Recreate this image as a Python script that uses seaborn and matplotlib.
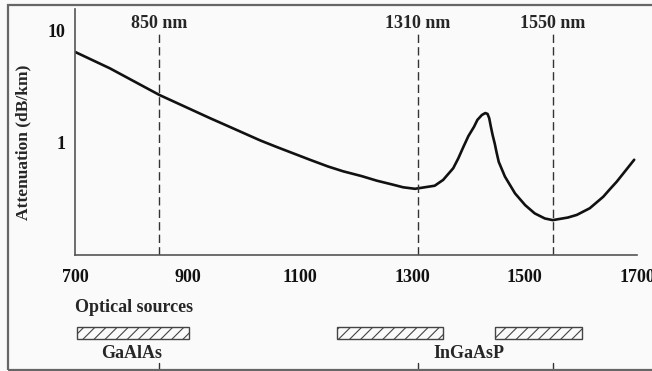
import matplotlib
matplotlib.use("Agg")
import matplotlib.pyplot as plt
import matplotlib.patches as mpatches
import seaborn as sns

# ------------------------
# Data
# ------------------------
wavelength = [700, 762, 850, 940, 960, 1030, 1059, 1088, 1118, 1150, 1177, 1210,
              1237, 1265, 1284, 1305, 1340, 1355, 1373, 1382, 1391, 1400, 1410, 1416,
              1424, 1430, 1434, 1437, 1440, 1443, 1447, 1450, 1454, 1465, 1483, 1501, 1518,
              1536, 1550, 1577, 1593, 1616, 1640, 1651, 1664, 1695]
attenuation = [6.45, 4.6, 2.66, 1.65, 1.49, 1.04, 0.91, 0.80, 0.70, 0.61, 0.552, 0.50,
               0.455, 0.42, 0.397, 0.385, 0.41, 0.462, 0.588, 0.72, 0.91, 1.14, 1.38, 1.59,
               1.76, 1.83, 1.80, 1.65, 1.38, 1.17, 0.97, 0.82, 0.67, 0.495, 0.35, 0.275, 0.232,
               0.209, 0.202, 0.213, 0.225, 0.258, 0.327, 0.378, 0.446, 0.70]

windows = [850, 1310, 1550]
window_labels = ['850 nm', '1310 nm', '1550 nm']

source_starts = [703, 1167, 1447]
source_ends = [903, 1354, 1603]
source_names = ['GaAlAs', 'InGaAsP']
source_name_x = [800, 1400]

x_ticks = [700, 900, 1100, 1300, 1500, 1700]
y_ticks = [1, 10]

# ------------------------
# Style
# ------------------------
sns.set_style('white')
plt.rcParams['font.family'] = ['Liberation Serif', 'DejaVu Serif']
plt.rcParams['font.weight'] = 'bold'
plt.rcParams['hatch.linewidth'] = 0.8
plt.rcParams['hatch.color'] = '#444444'

W, H = 652, 371
fig = plt.figure(figsize=(W / 100, H / 100), dpi=100)
fig.patch.set_facecolor('#fafafa')

# frame around the figure
fig.add_artist(mpatches.Rectangle((8 / W, 1 / H), 1.2, 1 - 6 / H,
                                  transform=fig.transFigure, fill=False,
                                  edgecolor='#666666', lw=1.6))

# main axes
ax = fig.add_axes([75 / W, 1 - 255 / H, (637 - 75) / W, (255 - 9) / H])
ax.set_facecolor('none')
sns.lineplot(x=wavelength, y=attenuation, ax=ax, color='#111111', lw=1.9)
ax.set_yscale('log')
ax.set_xlim(700, 1700)
ax.set_ylim(0.0985, 15.6)

ax.set_xticks(x_ticks)
ax.set_xticklabels([str(t) for t in x_ticks])
ax.set_yticks(y_ticks)
ax.set_yticklabels([str(t) for t in y_ticks])
ax.minorticks_off()
ax.tick_params(axis='both', direction='in', length=8.5, width=1, color='#444444',
               labelsize=13, colors='#111111')
ax.tick_params(axis='x', pad=10)
ax.tick_params(axis='y', pad=7)

for side in ['top', 'right']:
    ax.spines[side].set_visible(False)
for side in ['left', 'bottom']:
    ax.spines[side].set_color('#555555')
    ax.spines[side].set_linewidth(1.2)

ax.set_ylabel('Attenuation (dB/km)', fontsize=12.5, fontweight='bold')
ax.yaxis.set_label_coords(-44 / (637 - 75), 0.46)

# operating windows
top_frac = (255 - 32) / (255 - 9)
for wl, lab in zip(windows, window_labels):
    ax.axvline(wl, ymin=0, ymax=top_frac, color='#333333', lw=1, ls=(0, (6, 3)))
    ax.text(wl, 1 - (23 - 9) / (255 - 9), lab, transform=ax.get_xaxis_transform(),
            ha='center', va='center', fontsize=13, fontweight='bold')

# optical sources strip
ax2 = fig.add_axes([75 / W, 0, (637 - 75) / W, 81 / H])
ax2.set_xlim(700, 1700)
ax2.set_ylim(0, 1)
ax2.axis('off')

ax2.text(700, 0.778, 'Optical sources', ha='left', va='center',
         fontsize=13, fontweight='bold')
for s, e in zip(source_starts, source_ends):
    ax2.add_patch(mpatches.Rectangle((s, 0.391), e - s, 0.156, facecolor='#fafafa',
                                     edgecolor='#444444', lw=1, hatch='///'))
for name, xn in zip(source_names, source_name_x):
    ax2.text(xn, 0.222, name, ha='center', va='center', fontsize=13, fontweight='bold')
for wl in windows:
    ax2.plot([wl, wl], [0.0, 0.1], color='#333333', lw=1)

fig.savefig('out.png', dpi=100, facecolor=fig.get_facecolor())
